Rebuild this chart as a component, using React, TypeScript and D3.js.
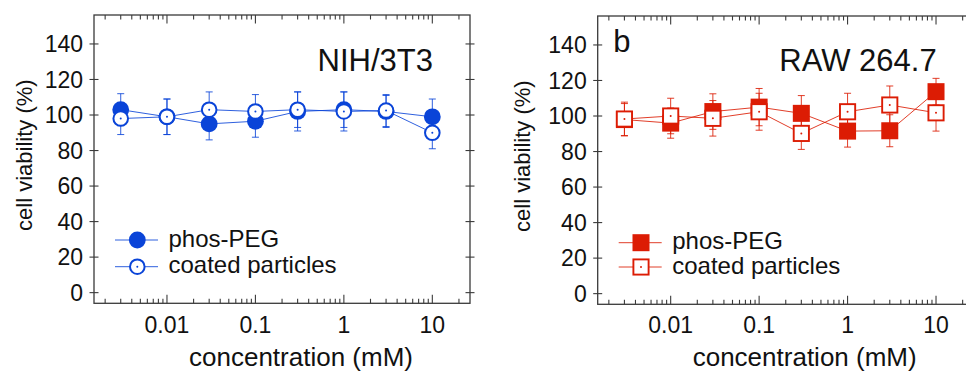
import * as d3 from 'd3'

// concentrations (mM) shared by both panels
const concentrations = [0.003, 0.01, 0.03, 0.1, 0.3, 1, 3, 10]

// NIH/3T3 panel
const nihPhos = [103, 99, 95, 96.5, 102, 103, 102, 99]
const nihPhosErr = [9, 10, 9, 9, 11, 10, 9, 10]
const nihCoated = [98, 99, 103, 102, 103, 102, 102.5, 90]
const nihCoatedErr = [9, 10, 10, 9.5, 10, 11, 9, 9]

// RAW 264.7 panel
const rawPhos = [98, 96, 102.5, 105, 101.5, 91.5, 91.7, 113.7]
const rawPhosErr = [9, 8.5, 10, 10.5, 10, 9, 9, 7.5]
const rawCoated = [98.3, 100, 98.7, 102.4, 90.2, 102.4, 106.2, 101.8]
const rawCoatedErr = [9.5, 10, 10, 10.4, 9, 10.4, 10.7, 10.3]

const yTicks = [0, 20, 40, 60, 80, 100, 120, 140]
const xTickValues = [0.01, 0.1, 1, 10]
const xTickLabels = ['0.01', '0.1', '1', '10']
const seriesNames = ['phos-PEG', 'coated particles']

const FONT = '"Liberation Sans", Arial, Helvetica, sans-serif'
const BLUE = '#0a44d8'
const RED = '#dc1c04'
const AXIS = '#3a3a3a'

type Shape = 'circle' | 'square'

interface PanelProps {
  left: number
  top: number
  title: string
  letter?: string
  color: string
  shape: Shape
  phos: number[]
  phosErr: number[]
  coated: number[]
  coatedErr: number[]
  ylabelX: number
  legendY: number[]
}

function Marker({ shape, filled, color, cx, cy }: { shape: Shape; filled: boolean; color: string; cx: number; cy: number }) {
  if (shape === 'circle') {
    return filled ? (
      <circle cx={cx} cy={cy} r={8.4} fill={color} />
    ) : (
      <g>
        <circle cx={cx} cy={cy} r={7.3} fill="#fff" stroke={color} strokeWidth={2} />
        <circle cx={cx} cy={cy} r={1} fill={color} />
      </g>
    )
  }
  return filled ? (
    <rect x={cx - 8.5} y={cy - 8.5} width={17} height={17} fill={color} />
  ) : (
    <g>
      <rect x={cx - 7.6} y={cy - 7.6} width={15.2} height={15.2} fill="#fff" stroke={color} strokeWidth={1.9} />
      <circle cx={cx} cy={cy} r={1} fill={color} />
    </g>
  )
}

function Panel(p: PanelProps) {
  const width = 376
  const height = 288.3
  const x = d3.scaleLog().domain([Math.pow(10, -2.825), Math.pow(10, 1.426)]).range([p.left, p.left + width])
  const y = d3.scaleLinear().domain([-6, 156.3]).range([p.top + height, p.top])
  const bottom = p.top + height
  const right = p.left + width
  const allTicks = x.ticks()
  const isMajor = (t: number) => Math.abs(Math.log10(t) - Math.round(Math.log10(t))) < 1e-6
  const line = d3.line<number>().x((_, i) => x(concentrations[i])).y((d) => y(d))

  const series = [
    { vals: p.phos, errs: p.phosErr, filled: true },
    { vals: p.coated, errs: p.coatedErr, filled: false },
  ]

  return (
    <g>
      {/* lines */}
      {series.map((s, k) => (
        <path key={'l' + k} d={line(s.vals) ?? ''} fill="none" stroke={p.color} strokeWidth={1} strokeOpacity={0.85} />
      ))}
      {/* error bars */}
      {series.map((s, k) => (
        <g key={'e' + k} stroke={p.color} strokeWidth={1} strokeOpacity={0.85}>
          {s.vals.map((v, i) => {
            const cx = x(concentrations[i])
            const hi = y(v + s.errs[i])
            const lo = y(v - s.errs[i])
            return (
              <g key={i}>
                <line x1={cx} x2={cx} y1={hi} y2={lo} />
                <line x1={cx - 3.5} x2={cx + 3.5} y1={hi} y2={hi} />
                <line x1={cx - 3.5} x2={cx + 3.5} y1={lo} y2={lo} />
              </g>
            )
          })}
        </g>
      ))}
      {/* markers */}
      {series.map((s, k) => (
        <g key={'m' + k}>
          {s.vals.map((v, i) => (
            <Marker key={i} shape={p.shape} filled={s.filled} color={p.color} cx={x(concentrations[i])} cy={y(v)} />
          ))}
        </g>
      ))}

      {/* frame */}
      <rect x={p.left} y={p.top} width={width} height={height} fill="none" stroke={AXIS} strokeWidth={1.3} />

      {/* x ticks, top and bottom, pointing inward */}
      <g stroke={AXIS} strokeWidth={1.1}>
        {allTicks.map((t, i) => {
          const len = isMajor(t) ? 8.5 : 4.5
          const tx = x(t)
          return (
            <g key={i}>
              <line x1={tx} x2={tx} y1={bottom} y2={bottom - len} />
              <line x1={tx} x2={tx} y1={p.top} y2={p.top + len} />
            </g>
          )
        })}
        {yTicks.map((t, i) => (
          <g key={'y' + i}>
            <line x1={p.left - 4.5} x2={p.left + 4.5} y1={y(t)} y2={y(t)} />
            <line x1={right - 4.5} x2={right + 4.5} y1={y(t)} y2={y(t)} />
          </g>
        ))}
      </g>

      {/* tick labels */}
      <g fontFamily={FONT} fontSize={23} fill="#111">
        {xTickValues.map((t, i) => (
          <text key={i} x={x(t)} y={333} textAnchor="middle">
            {xTickLabels[i]}
          </text>
        ))}
        {yTicks.map((t, i) => (
          <text key={'yl' + i} x={p.left - 11} y={y(t) + 8.2} textAnchor="end">
            {t}
          </text>
        ))}
      </g>

      {/* axis titles */}
      <text x={(p.left + right) / 2 + 19} y={366} textAnchor="middle" fontFamily={FONT} fontSize={26} fill="#111">
        concentration (mM)
      </text>
      <text
        transform={`translate(${p.ylabelX},${(p.top + bottom) / 2 - 4}) rotate(-90)`}
        textAnchor="middle"
        fontFamily={FONT}
        fontSize={22}
        fill="#111"
      >
        cell viability (%)
      </text>

      {/* panel title */}
      <text x={p.left + 339} y={71} textAnchor="end" fontFamily={FONT} fontSize={31} fill="#111">
        {p.title}
      </text>
      {p.letter && (
        <text x={p.left + 15.5} y={51.5} fontFamily={FONT} fontSize={31} fill="#111">
          {p.letter}
        </text>
      )}

      {/* legend */}
      {seriesNames.map((name, i) => {
        const ly = p.legendY[i]
        return (
          <g key={'lg' + i}>
            <line x1={p.left + 21} x2={p.left + 64} y1={ly} y2={ly} stroke={p.color} strokeWidth={1} strokeOpacity={0.85} />
            <Marker shape={p.shape} filled={i === 0} color={p.color} cx={p.left + 43.3} cy={ly} />
            <text x={p.left + 74.5} y={ly + 6.5} fontFamily={FONT} fontSize={24} fill="#111">
              {name}
            </text>
          </g>
        )
      })}
    </g>
  )
}

export default function App() {
  return (
    <svg
      width={966}
      height={374}
      viewBox="0 0 966 374"
      style={{ position: 'absolute', left: 0, top: 0, background: '#fff' }}
    >
      <rect width={966} height={374} fill="#fff" />
      <Panel
        left={94}
        top={15}
        title="NIH/3T3"
        color={BLUE}
        shape="circle"
        phos={nihPhos}
        phosErr={nihPhosErr}
        coated={nihCoated}
        coatedErr={nihCoatedErr}
        ylabelX={32}
        legendY={[240, 266.7]}
      />
      <Panel
        left={597.7}
        top={16}
        title="RAW 264.7"
        letter="b"
        color={RED}
        shape="square"
        phos={rawPhos}
        phosErr={rawPhosErr}
        coated={rawCoated}
        coatedErr={rawCoatedErr}
        ylabelX={530}
        legendY={[242.7, 267]}
      />
    </svg>
  )
}
